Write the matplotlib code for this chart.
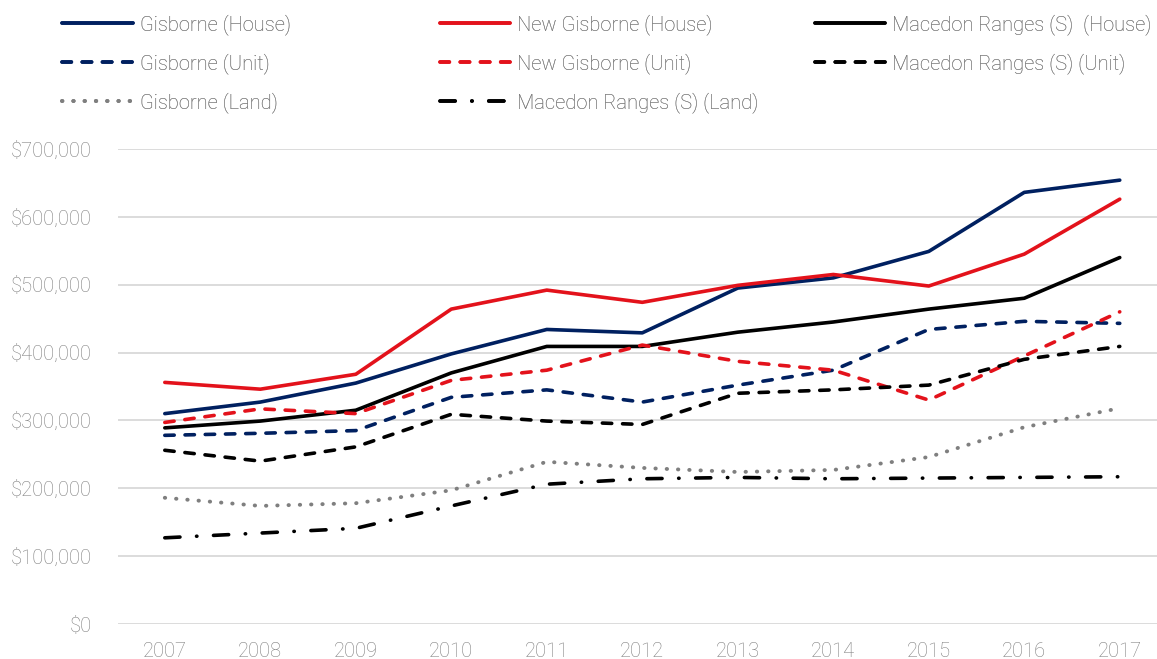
import matplotlib.pyplot as plt
from matplotlib.lines import Line2D
from matplotlib.ticker import FuncFormatter

years = list(range(2007, 2018))

gisborne_house = [310000, 327000, 355000, 398000, 434000, 429000, 495000, 510000, 549000, 636000, 654000]
new_gisborne_house = [356000, 346000, 368000, 464000, 492000, 474000, 499000, 515000, 498000, 545000, 626000]
macedon_house = [289000, 299000, 315000, 370000, 409000, 409000, 430000, 445000, 464000, 480000, 540000]
gisborne_unit = [278000, 281000, 285000, 334000, 345000, 327000, 352000, 374000, 434000, 446000, 443000]
new_gisborne_unit = [297000, 317000, 310000, 359000, 374000, 411000, 387000, 374000, 330000, 395000, 460000]
macedon_unit = [256000, 240000, 261000, 309000, 299000, 294000, 340000, 345000, 352000, 390000, 409000]
gisborne_land = [186000, 174000, 178000, 197000, 239000, 230000, 224000, 227000, 246000, 290000, 318000]
macedon_land = [127000, 134000, 141000, 174000, 206000, 214000, 216000, 214000, 215000, 216000, 217000]

NAVY = '#002060'
RED = '#E3121B'
BLACK = '#000000'
GREY = '#7F7F7F'
TEXT = '#7E7E7E'

plt.rcParams['font.family'] = ['Roboto', 'DejaVu Sans']
plt.rcParams['font.weight'] = 'light'

fig = plt.figure(figsize=(11.57, 6.59), dpi=100)
ax = fig.add_axes([0.102, 0.0531, 0.898, 0.7209])

dash = (2.6, 3.0)
series = [
    ('Gisborne (House)', gisborne_house, NAVY, None, 2.6),
    ('New Gisborne (House)', new_gisborne_house, RED, None, 2.6),
    ('Macedon Ranges (S)  (House)', macedon_house, BLACK, None, 2.6),
    ('Gisborne (Unit)', gisborne_unit, NAVY, dash, 2.6),
    ('New Gisborne (Unit)', new_gisborne_unit, RED, dash, 2.6),
    ('Macedon Ranges (S) (Unit)', macedon_unit, BLACK, dash, 2.6),
    ('Gisborne (Land)', gisborne_land, GREY, (0.1, 2.8), 2.8),
    ('Macedon Ranges (S) (Land)', macedon_land, BLACK, (4.2, 4.6, 0.1, 4.6), 2.6),
]

handles = {}
for name, vals, col, ds, lw in series:
    ln, = ax.plot(years, vals, color=col, lw=lw, solid_capstyle='round',
                  dash_capstyle='round', solid_joinstyle='round')
    if ds is not None:
        ln.set_dashes(ds)
    h = Line2D([0], [0], color=col, lw=lw, dash_capstyle='round', solid_capstyle='round')
    if ds is not None:
        h.set_dashes(ds)
    handles[name] = h

ax.set_xlim(2006.51, 2017.39)
ax.set_ylim(0, 700000)
ax.set_xticks(years)
ax.set_yticks(range(0, 700001, 100000))
ax.yaxis.set_major_formatter(FuncFormatter(lambda v, p: '${:,.0f}'.format(v)))
ax.grid(axis='y', color='#D9D9D9', lw=1.3)
ax.set_axisbelow(True)
for s in ax.spines.values():
    s.set_visible(False)
ax.tick_params(length=0, labelsize=14.5, labelcolor=TEXT)
ax.tick_params(axis='y', pad=19)
ax.tick_params(axis='x', pad=13)

cols = [
    (0.0415, ['Gisborne (House)', 'Gisborne (Unit)', 'Gisborne (Land)']),
    (0.368, ['New Gisborne (House)', 'New Gisborne (Unit)', 'Macedon Ranges (S) (Land)']),
    (0.692, ['Macedon Ranges (S)  (House)', 'Macedon Ranges (S) (Unit)']),
]
for x0, names in cols:
    leg = fig.legend([handles[n] for n in names], names, loc='upper left',
                     bbox_to_anchor=(x0, 1.0), frameon=False, fontsize=14.5,
                     handlelength=3.5, handletextpad=0.35, labelspacing=0.9,
                     borderaxespad=0.3)
    for t in leg.get_texts():
        t.set_color(TEXT)
    fig.add_artist(leg)

fig.savefig('out.png', dpi=100)
